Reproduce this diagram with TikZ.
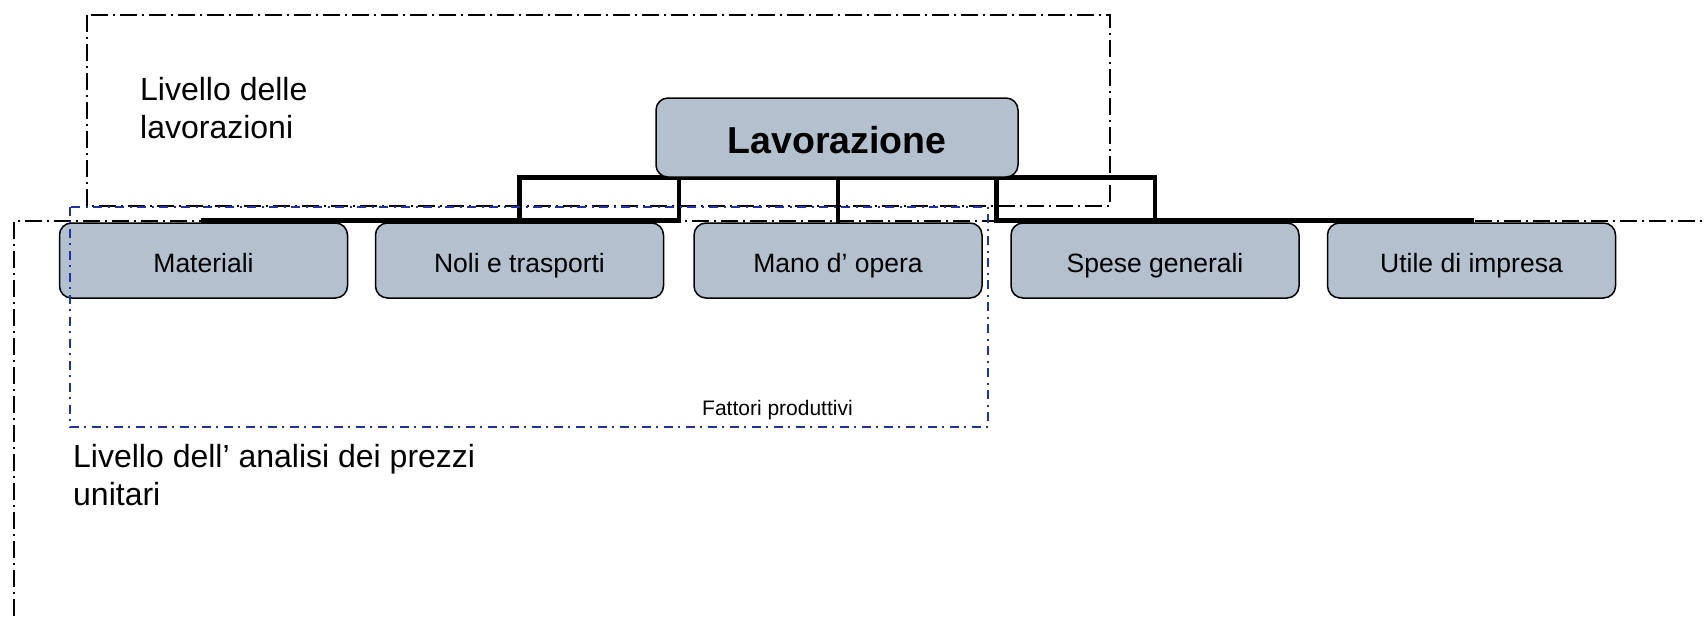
\documentclass[tikz,border=0pt]{standalone}
\usepackage{fontspec}
\setmainfont{Liberation Sans}
\usetikzlibrary{backgrounds}
\definecolor{boxgray}{RGB}{179,192,206}
\definecolor{ddblue}{RGB}{30,50,160}
\tikzset{
  box/.style={draw=black, line width=1.5pt, fill=boxgray, rounded corners=12pt,
    inner sep=0pt, text depth=0pt},
  child/.style={box, minimum width=288pt, minimum height=75pt, text height=23pt,
    font=\fontsize{26.5}{30}\selectfont},
  conn/.style={line width=4.5pt, line join=miter, line cap=rect},
  blackdd/.style={draw=black, line width=1.6pt, dash pattern=on 17pt off 5pt on 2pt off 5pt},
  bluedd/.style={draw=ddblue, line width=1.6pt, dash pattern=on 9pt off 5pt on 2pt off 6pt},
  lbl/.style={inner sep=0pt, align=left, font=\fontsize{32}{38}\selectfont},
}
\begin{document}
\begin{tikzpicture}[x=1pt,y=-1pt]
\useasboundingbox (0,0) rectangle (1704,616);
% nodes
\node[box, minimum width=362pt, minimum height=79pt, text height=31pt,
  font=\fontsize{37.5}{42}\selectfont\bfseries] (L) at (837,137.5) {Lavorazione};
\node[child] (m1) at (203.5,260.5) {Materiali};
\node[child] (m2) at (519.5,260.5) {Noli e trasporti};
\node[child] (m3) at (838,260.5) {Mano d’ opera};
\node[child] (m4) at (1155,260.5) {Spese generali};
\node[child] (m5) at (1471.5,260.5) {Utile di impresa};
\coordinate (bus) at (0,220.5);
\coordinate (top) at (0,177.5);
\coordinate (g23) at (678.75,0);
\coordinate (g34) at (996.5,0);
% connectors
\begin{scope}[on background layer]
\draw[conn] (m1.north) -- (m1.north |- bus) -- (g23 |- bus) -- (g23 |- top);
\draw[conn] (m2.north |- bus) -- (m2.north |- top) -- (m4.north |- top) -- (m4.north |- bus);
\draw[conn] (m3.north) -- (m3.north |- top);
\draw[conn] (g34 |- top) -- (g34 |- bus) -- (m5.north |- bus) -- (m5.north);
\end{scope}
% level frames
\coordinate (ta) at (87,15);
\coordinate (tb) at (1110,206);
\draw[blackdd] (ta) rectangle (tb);
\coordinate (ba) at (14,616);
\coordinate (bb) at (14,221);
\coordinate (bc) at (1704,221);
\draw[blackdd] (ba) -- (bb) -- (bc);
\coordinate (fa) at (70,207);
\coordinate (fb) at (988,427);
\draw[bluedd] (fa) rectangle (fb);
% labels
\node[lbl, anchor=north west] (t1) at (140,77) {Livello delle\\lavorazioni};
\node[lbl, anchor=north west] (t2) at (73,444) {Livello dell’ analisi dei prezzi\\unitari};
\node[inner sep=0pt, anchor=base west, font=\fontsize{21}{25}\selectfont] (t3) at (702,415) {Fattori produttivi};
\end{tikzpicture}
\end{document}
